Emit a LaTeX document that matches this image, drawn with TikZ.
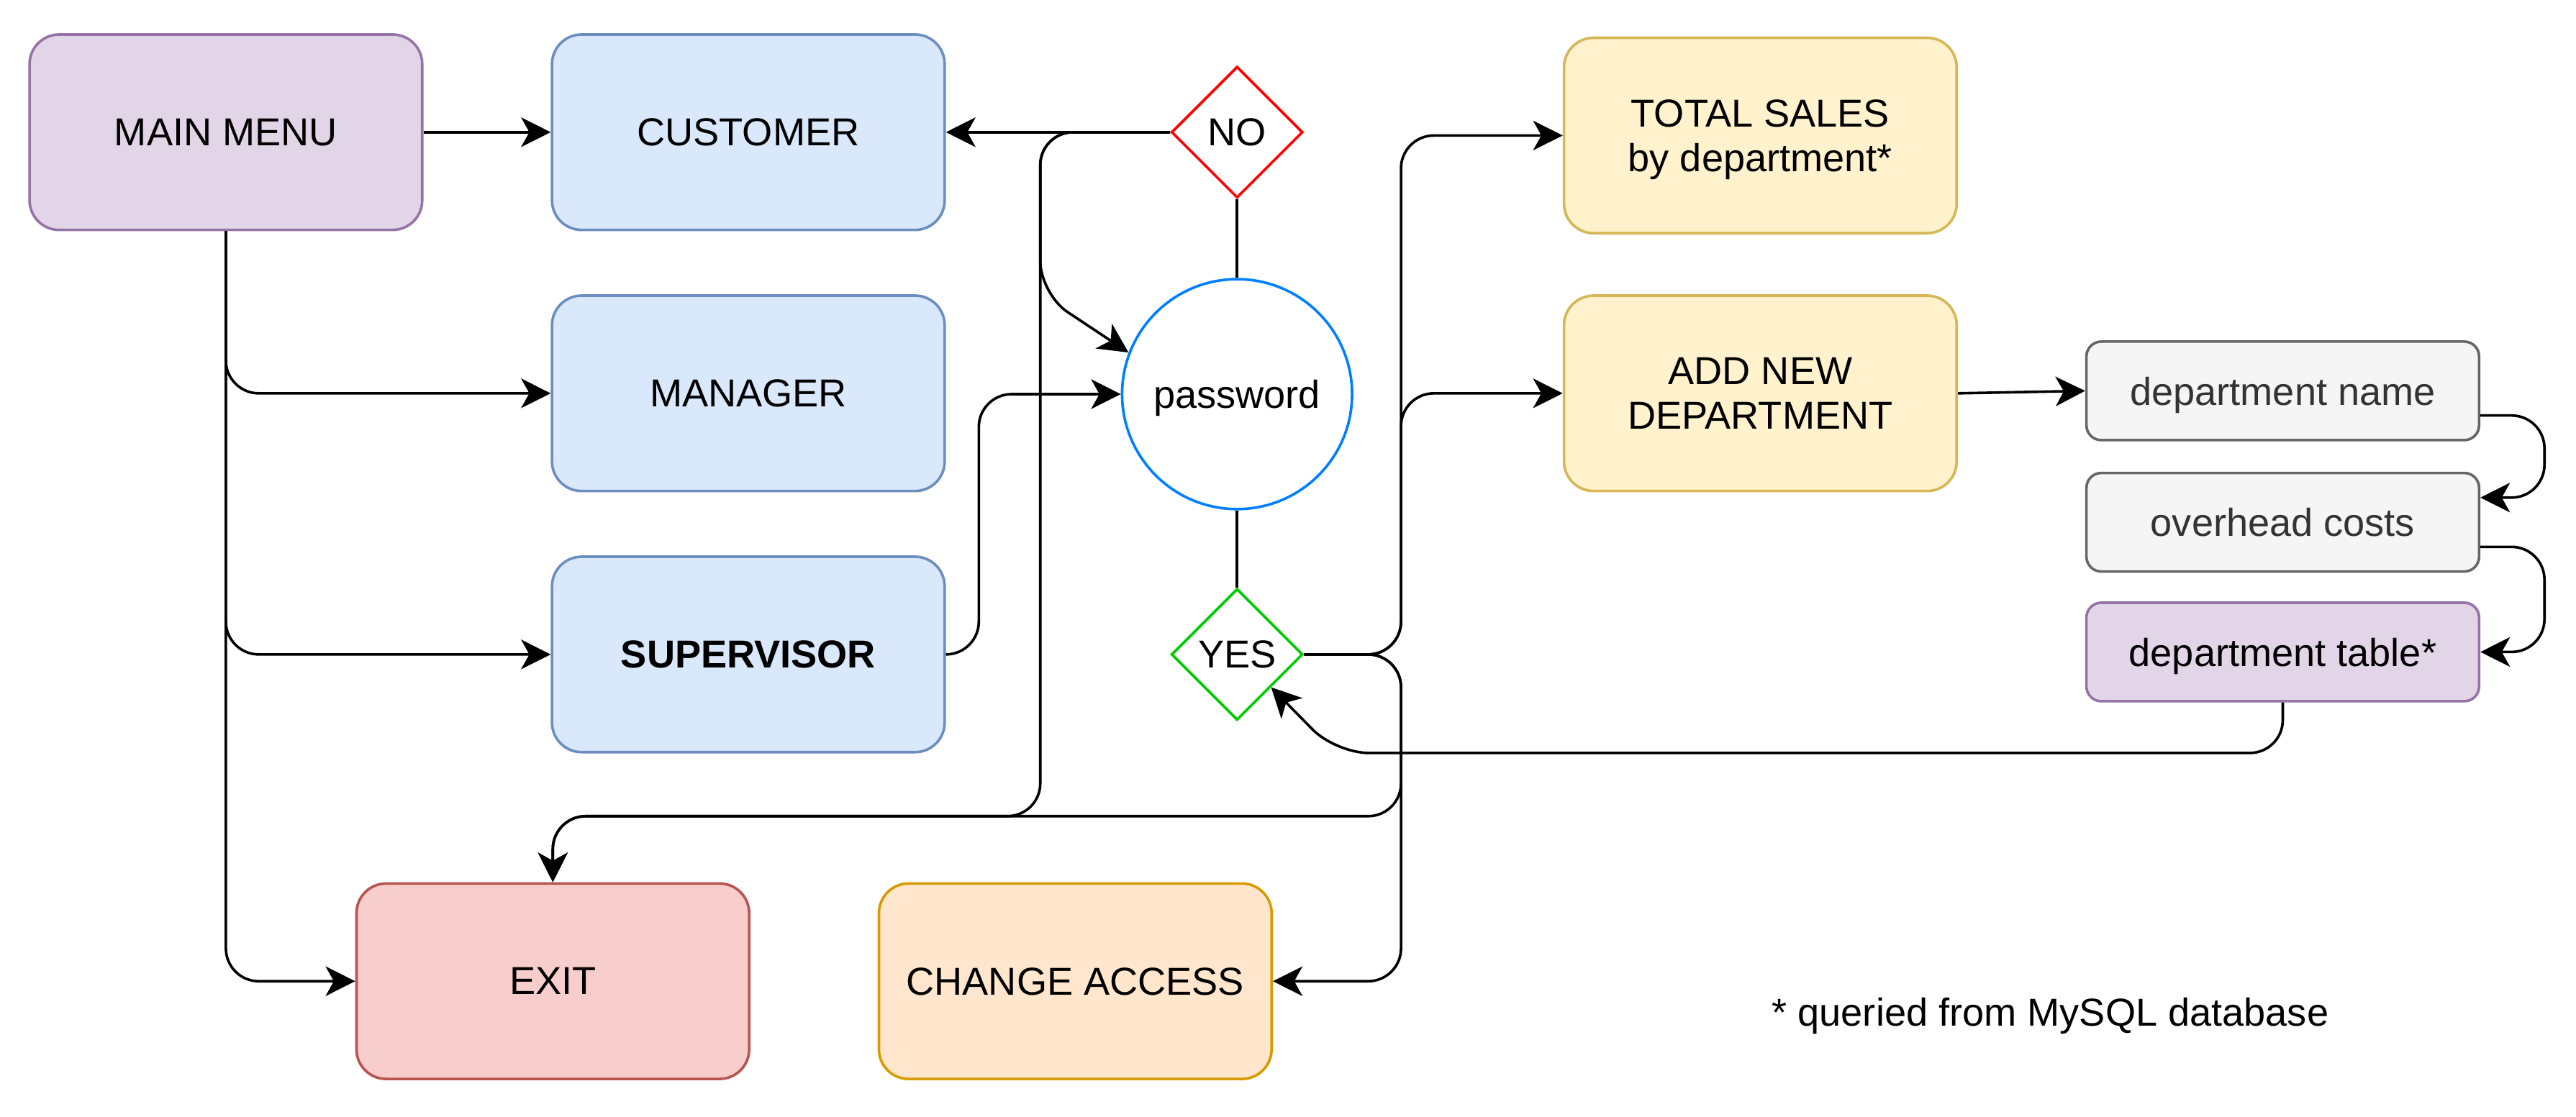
\documentclass[tikz,border=0pt]{standalone}
\usepackage{fontspec}
\setmainfont{Liberation Sans}
\usetikzlibrary{shapes.geometric,arrows.meta}
\definecolor{lilacfill}{HTML}{E1D5E7}
\definecolor{lilacdraw}{HTML}{9673A6}
\definecolor{bluefill}{HTML}{DAE8FC}
\definecolor{bluedraw}{HTML}{6C8EBF}
\definecolor{redfill}{HTML}{F8CECC}
\definecolor{reddraw}{HTML}{B85450}
\definecolor{orangefill}{HTML}{FFE6CC}
\definecolor{orangedraw}{HTML}{D79B00}
\definecolor{yellowfill}{HTML}{FFF2CC}
\definecolor{yellowdraw}{HTML}{D6B656}
\definecolor{greyfill}{HTML}{F5F5F5}
\definecolor{greydraw}{HTML}{666666}
\definecolor{greytext}{HTML}{333333}
\definecolor{nored}{HTML}{FF0000}
\definecolor{pwblue}{HTML}{007FFF}
\definecolor{yesgreen}{HTML}{00CC00}
\begin{document}
\begin{tikzpicture}[x=0.2mm,y=-0.2mm]
		\tikzstyle{every node}=[font=\fontsize{13.5}{15.5}\selectfont]
		\tikzstyle{bigbox}=[draw,line width=0.9pt,rounded corners=0.36cm,minimum width=4.78cm,minimum height=2.38cm,inner sep=0pt,align=center,text depth=0pt]
		\tikzstyle{smallbox}=[draw,line width=0.9pt,rounded corners=0.18cm,minimum width=4.78cm,minimum height=1.2cm,inner sep=0pt,text depth=0pt]
		\tikzstyle{choice}=[diamond,draw,line width=0.9pt,minimum width=1.6cm,minimum height=1.6cm,inner sep=0pt,fill=white]
		\tikzstyle{arr}=[line width=0.9pt,rounded corners=0.4cm,-{Stealth[length=3.6mm,width=3.6mm,inset=1mm]}]
		\tikzstyle{link}=[line width=0.9pt]
		\useasboundingbox (0,0) rectangle (1568,680);
		% menu and roles
		\node[bigbox,fill=lilacfill,draw=lilacdraw] (mainmenu) at (137.5,80.5) {MAIN MENU};
		\node[bigbox,fill=bluefill,draw=bluedraw] (customer) at (455.5,80.5) {CUSTOMER};
		\node[bigbox,fill=bluefill,draw=bluedraw] (manager) at (455.5,239.5) {MANAGER};
		\node[bigbox,fill=bluefill,draw=bluedraw] (supervisor) at (455.5,398.5) {\textbf{SUPERVISOR}};
		\node[bigbox,fill=redfill,draw=reddraw] (exit) at (336.5,597.5) {EXIT};
		\node[bigbox,fill=orangefill,draw=orangedraw] (change) at (654.5,597.5) {CHANGE ACCESS};
		% password check
		\node[choice,draw=nored] (no) at (753,80.5) {NO};
		\node[circle,draw=pwblue,line width=0.9pt,minimum size=2.8cm,inner sep=0pt,text depth=0pt] (pw) at (753,240) {password};
		\node[choice,draw=yesgreen] (yes) at (753,398.5) {YES};
		% supervisor options
		\node[bigbox,fill=yellowfill,draw=yellowdraw] (total) at (1071.5,82.5) {TOTAL SALES\\by department*};
		\node[bigbox,fill=yellowfill,draw=yellowdraw] (adddept) at (1071.5,239.5) {ADD NEW\\DEPARTMENT};
		\node[smallbox,fill=greyfill,draw=greydraw,text=greytext] (deptname) at (1389.5,238) {department name};
		\node[smallbox,fill=greyfill,draw=greydraw,text=greytext] (overhead) at (1389.5,318) {overhead costs};
		\node[smallbox,fill=lilacfill,draw=lilacdraw] (depttable) at (1389.5,397) {department table*};
		\node[text depth=0pt] (note) at (1248,616) {* queried from MySQL database};
		% connectors
		\draw[arr] (mainmenu) -- (customer);
		\draw[arr] (mainmenu.south) |- (manager.west);
		\draw[arr] (mainmenu.south) |- (supervisor.west);
		\draw[arr] (mainmenu.south) |- (exit.west);
		\draw[arr] (no.west) -- (customer.east);
		\draw[arr] (no.west) -- ++(-79,0) -- ++(0,98.5) -- (pw.159);
		\draw[arr] (no.west) -- ++(-79,0) -- ++(0,416.5) -| (exit.north);
		\draw[arr] (supervisor.east) -- ++(20,0) |- (pw.west);
		\draw[link] (no.south) -- (pw.north);
		\draw[link] (pw.south) -- (yes.north);
		\draw[arr] (yes.east) -- ++(59,0) |- (total.west);
		\draw[arr] (yes.east) -- ++(59,0) |- (adddept.west);
		\draw[arr] (yes.east) -- ++(59,0) |- (change.east);
		\draw[arr] (yes.east) -- ++(59,0) -- ++(0,98.5) -| (exit.north);
		\draw[arr] (adddept.east) -- (deptname.west);
		\draw[arr] ([yshift=-0.3cm]deptname.east) -- ++(39,0) |- ([yshift=0.3cm]overhead.east);
		\draw[arr] ([yshift=-0.3cm]overhead.east) -- ++(39,0) |- (depttable.east);
		\draw[arr] (depttable.south) |- (813,458.5) -- (yes.-44);
	\end{tikzpicture}
\end{document}
